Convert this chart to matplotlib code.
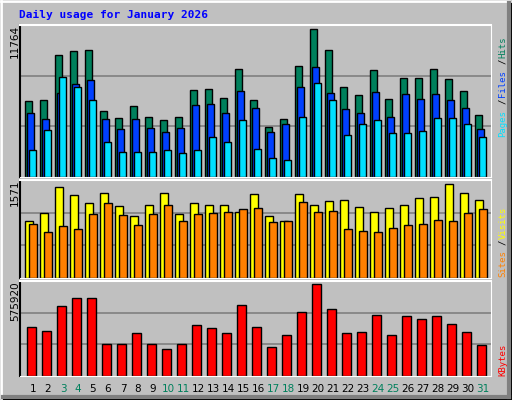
import matplotlib
matplotlib.use('Agg')
import matplotlib.pyplot as plt
from matplotlib.patches import Rectangle
import numpy as np

days = list(range(1, 32))
weekend = [3, 4, 10, 11, 17, 18, 24, 25, 31]

hits = [6080, 6160, 9680, 10000, 10080, 5280, 4720, 5680, 4800, 4560, 4800, 6880, 6960, 6320,
        8560, 6160, 4000, 4640, 8800, 11760, 10080, 7120, 6480, 8480, 6240, 7840, 7840, 8560,
        7760, 6800, 4960]
files = [5120, 4640, 6640, 7360, 7680, 4640, 3840, 4640, 3920, 3600, 3920, 5760, 5840, 5120,
         6800, 5520, 3600, 4240, 7120, 8720, 6640, 5440, 5120, 6720, 4800, 6560, 6240, 6560,
         6160, 5520, 3840]
pages = [2160, 3760, 7920, 7120, 6160, 2800, 2000, 2000, 2000, 2160, 1920, 2160, 3200, 2800,
         4560, 2240, 1520, 1360, 4800, 7440, 6160, 3360, 4240, 4560, 3520, 3520, 3680, 4720,
         4720, 4240, 3200]
visits = [958, 1094, 1519, 1383, 1247, 1423, 1196, 1043, 1213, 1423, 1077, 1247, 1213, 1213,
          1111, 1400, 1043, 958, 1400, 1213, 1281, 1298, 1179, 1111, 1162, 1213, 1332, 1349,
          1571, 1423, 1298]
sites = [907, 771, 873, 822, 1077, 1247, 1060, 890, 1077, 1213, 958, 1077, 1094, 1111, 1145,
         1162, 941, 958, 1264, 1111, 1128, 822, 788, 771, 839, 890, 907, 975, 958, 1094, 1145]
kbytes = [304600, 279400, 437000, 487400, 487400, 197600, 197600, 267000, 197600, 166000,
          197600, 317200, 298300, 267000, 443300, 304600, 178700, 254400, 399200, 575900,
          422200, 267000, 273300, 380300, 254400, 374000, 355100, 374000, 323500, 273300, 191300]

BG = '#c0c0c0'
W, H = 512, 400
fig = plt.figure(figsize=(5.12, 4.0), dpi=100)
fig.patch.set_facecolor(BG)

def px_axes(x0, y0, x1, y1):
    # pixel box (top-left origin) -> axes
    return fig.add_axes([x0 / W, 1 - y1 / H, (x1 - x0) / W, (y1 - y0) / H])

# 3D frame
bg = fig.add_axes([0, 0, 1, 1])
bg.set_xlim(0, W); bg.set_ylim(H, 0); bg.axis('off')
bg.plot([1, W - 2], [1, 1], color='white', lw=2)
bg.plot([1, 1], [1, H - 2], color='white', lw=2)
bg.plot([W - 3, W - 3], [3, H - 3], color='#808080', lw=3)
bg.plot([3, W - 3], [H - 3, H - 3], color='#808080', lw=3)
bg.add_patch(Rectangle((0, 0), W - 1, H - 1, fill=False, ec='black', lw=1))

mono = 'DejaVu Sans Mono'
fig.text(19 / W, 1 - 15 / H, 'Daily usage for January 2026', color='#0000ff',
         family=mono, weight='bold', fontsize=8, va='center')

x = np.arange(31) * 15

def panel(y0, y1, ymax):
    ax = px_axes(20, y0, 491, y1)
    ax.set_facecolor(BG)
    ax.set_xlim(0, 471)
    ax.set_ylim(0, ymax)
    ax.set_xticks([]); ax.set_yticks([])
    for yy in (ymax / 3, 2 * ymax / 3):
        ax.axhline(yy, color='#808080', lw=1.2, zorder=0)
    ax.spines['top'].set_color('white'); ax.spines['left'].set_color('black')
    ax.spines['bottom'].set_color('white'); ax.spines['right'].set_color('white')
    ax.spines['top'].set_linewidth(1.5); ax.spines['left'].set_linewidth(1.5)
    return ax

kw = dict(align='edge', edgecolor='black', linewidth=1)
ax1 = panel(25, 177, 11764 * 151 / 147)
ax1.bar(x + 5, hits, width=7, color='#00805c', **kw)
ax1.bar(x + 7, files, width=7, color='#0040ff', **kw)
ax1.bar(x + 9, pages, width=7, color='#00e0ff', **kw)

ax2 = panel(180, 278, 1571 * 98 / 94)
ax2.bar(x + 5, visits, width=8, color='#ffff00', **kw)
ax2.bar(x + 9, sites, width=8, color='#ff8000', **kw)

ax3 = panel(281, 376, 575920 * 95 / 92)
ax3.bar(x + 7, kbytes, width=9, color='#ff0000', **kw)

for i, d in enumerate(days):
    fig.text((20 + 13 + 15 * i) / W, 1 - 389 / H, str(d), ha='center', va='center',
             fontsize=7.5, color='#00805c' if d in weekend else 'black')

for txt, ytop in (('11764', 25), ('1571', 180), ('575920', 281)):
    fig.text(15 / W, 1 - ytop / H, txt, rotation=90, ha='center', va='top', fontsize=7.5)

def vlabel(parts, ybottom, step=5.4):
    y = ybottom
    for s, c in parts:
        fig.text(503 / W, 1 - y / H, s, rotation=90, ha='center', va='bottom',
                 family=mono, fontsize=6.5, color=c)
        y -= step * len(s)

vlabel([('Pages', '#00e0ff'), ('/', 'black'), ('Files', '#0040ff'),
        ('/', 'black'), ('Hits', '#00805c')], 137, step=6.6)
vlabel([('Sites', '#ff8000'), ('/', 'black'), ('Visits', '#ffff00')], 277, step=6.4)
vlabel([('KBytes', '#ff0000')], 376)

fig.savefig('out.png', dpi=100, facecolor=BG)
